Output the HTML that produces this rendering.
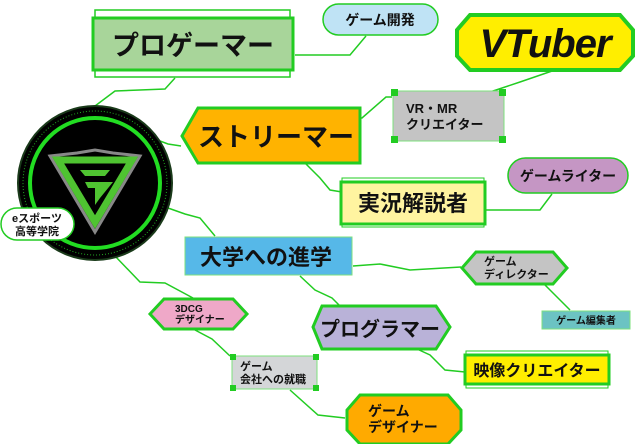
<!DOCTYPE html>
<html><head><meta charset="utf-8"><style>
html,body{margin:0;padding:0;background:#fff;width:640px;height:444px;overflow:hidden}
svg{display:block}
text{font-family:"Liberation Sans","Noto Sans CJK JP",sans-serif;font-weight:bold;fill:#111}
</style></head><body>
<svg width="640" height="444" viewBox="0 0 640 444" xmlns="http://www.w3.org/2000/svg">
<g fill="none" stroke="#22cc22" stroke-width="1.5">
<polyline points="175,78 165,89 115,91 95,106"/>
<polyline points="295,55 305,55 350,55 366,36"/>
<polyline points="555,70 520,82 490,92"/>
<polyline points="181,146 168,144 160,141"/>
<polyline points="352,118 362,118 386,97 392,97"/>
<polyline points="305,163 320,178 330,190 342,192"/>
<polyline points="485,210 540,210 552,194"/>
<polyline points="168,208 185,214 200,218 215,236"/>
<polyline points="353,266 380,264 410,270 461,267"/>
<polyline points="545,285 565,305 570,310"/>
<polyline points="300,276 315,290 332,298 340,306"/>
<polyline points="417,349 430,355 445,370 465,372"/>
<polyline points="115,256 140,282 165,283 193,298"/>
<polyline points="195,330 212,339 230,356"/>
<polyline points="290,390 318,415 345,418"/>
</g>

<!-- central circle -->
<circle cx="95" cy="183" r="77" fill="#000" stroke="#1a3a1a" stroke-width="2"/>
<circle cx="95" cy="183" r="72" fill="none" stroke="#22aa22" stroke-width="1" stroke-dasharray="1,2"/>
<circle cx="95" cy="183" r="65" fill="none" stroke="#22dd22" stroke-width="4"/>
<polygon points="50,156 77,153 95,150 113,153 140,156 95,232" fill="none" stroke="#888" stroke-width="3"/>
<polygon points="58,160 132,160 95,222" fill="none" stroke="#4fc431" stroke-width="7"/>
<polygon points="80,170 110,170 105,176 85,176" fill="#4fc431"/>
<polygon points="85,182 113,182 100,198 95,205 95,188 88,188" fill="#4fc431"/>
<!-- eスポーツ pill -->
<rect x="1" y="208" width="73" height="32" rx="16" fill="#fff" stroke="#22cc22" stroke-width="1.5"/>
<text x="37" y="222" font-size="11" text-anchor="middle">eスポーツ</text>
<text x="37" y="235" font-size="11" text-anchor="middle">高等学院</text>

<!-- プロゲーマー -->
<rect x="95" y="10" width="195" height="67" fill="#fff" stroke="#22cc22" stroke-width="1.5"/>
<rect x="93" y="18" width="200" height="52" fill="#a8d59a" stroke="#22cc22" stroke-width="3"/>
<text x="193" y="55" font-size="27" text-anchor="middle" font-weight="900">プロゲーマー</text>

<!-- ゲーム開発 -->
<rect x="323" y="4" width="115" height="31" rx="15.5" fill="#bfe3f5" stroke="#22cc22" stroke-width="1.5"/>
<text x="380" y="25" font-size="14" text-anchor="middle" font-weight="normal">ゲーム開発</text>

<!-- VTuber -->
<polygon points="470,15 620,15 633,30 633,56 620,70 470,70 457,56 457,30" fill="#ffee00" stroke="#22cc22" stroke-width="4"/>
<text x="545" y="57" font-size="40" text-anchor="middle" font-style="italic" font-weight="900" letter-spacing="-1">VTuber</text>

<!-- ストリーマー -->
<polygon points="198,108 360,108 360,163 198,163 182,136" fill="#ffb300" stroke="#22cc22" stroke-width="3"/>
<text x="276" y="146" font-size="26" text-anchor="middle" font-weight="900">ストリーマー</text>

<!-- VR MR -->
<rect x="393" y="91" width="111" height="50" fill="#c4c4c4" stroke="#7ee07e" stroke-width="1"/>
<g fill="#22cc22"><rect x="391" y="89" width="7" height="7"/><rect x="499" y="89" width="7" height="7"/><rect x="391" y="136" width="7" height="7"/><rect x="499" y="136" width="7" height="7"/></g>
<text x="406" y="113" font-size="13">VR・MR</text>
<text x="406" y="129" font-size="13">クリエイター</text>

<!-- ゲームライター -->
<rect x="508" y="158" width="120" height="35" rx="17.5" fill="#c596c4" stroke="#22cc22" stroke-width="1.5"/>
<text x="568" y="181" font-size="14" text-anchor="middle" font-weight="900">ゲームライター</text>

<!-- 実況解説者 -->
<rect x="342" y="178" width="142" height="49" fill="#fff" stroke="#22cc22" stroke-width="1"/>
<rect x="341" y="182" width="144" height="42" fill="#fff4a0" stroke="#22cc22" stroke-width="3"/>
<text x="413" y="211" font-size="22" text-anchor="middle" font-weight="900">実況解説者</text>

<!-- 大学への進学 -->
<rect x="185" y="237" width="167" height="38" fill="#56b8e8" stroke="#7ee07e" stroke-width="1"/>
<text x="266" y="265" font-size="22" text-anchor="middle" font-weight="900">大学への進学</text>

<!-- ゲームディレクター -->
<polygon points="476,252 553,252 567,268 553,284 476,284 462,268" fill="#c4c4c4" stroke="#22cc22" stroke-width="3"/>
<text x="484" y="265" font-size="11">ゲーム</text>
<text x="484" y="278" font-size="11">ディレクター</text>

<!-- ゲーム編集者 -->
<rect x="542" y="311" width="88" height="18" fill="#6cc3c3" stroke="#7ee07e" stroke-width="1"/>
<text x="586" y="324" font-size="10" text-anchor="middle" font-weight="900">ゲーム編集者</text>

<!-- プログラマー -->
<polygon points="322,306 436,306 450,327 436,349 322,349 313,327" fill="#b9b2d8" stroke="#22cc22" stroke-width="3"/>
<text x="380" y="336" font-size="20" text-anchor="middle">プログラマー</text>

<!-- 映像クリエイター -->
<rect x="466" y="351" width="142" height="37" fill="#fff" stroke="#22cc22" stroke-width="1"/>
<rect x="465" y="355" width="144" height="29" fill="#ffee00" stroke="#22cc22" stroke-width="3"/>
<text x="537" y="376" font-size="16" text-anchor="middle" font-weight="900">映像クリエイター</text>

<!-- ゲームデザイナー -->
<polygon points="360,395 448,395 461,410 461,430 448,444 360,444 347,430 347,410" fill="#ffaa00" stroke="#22cc22" stroke-width="3"/>
<text x="368" y="416" font-size="14" font-weight="900">ゲーム</text>
<text x="368" y="432" font-size="14" font-weight="900">デザイナー</text>

<!-- 3DCG -->
<polygon points="164,299 233,299 247,314 233,329 164,329 150,314" fill="#efa8c8" stroke="#22cc22" stroke-width="3"/>
<text x="175" y="312" font-size="10">3DCG</text>
<text x="175" y="323" font-size="10">デザイナー</text>

<!-- ゲーム会社への就職 -->
<rect x="232" y="356" width="85" height="33" fill="#d4d6d8" stroke="#7ee07e" stroke-width="1"/>
<g fill="#22cc22"><rect x="230" y="354" width="6" height="6"/><rect x="313" y="354" width="6" height="6"/><rect x="230" y="385" width="6" height="6"/><rect x="313" y="385" width="6" height="6"/></g>
<text x="240" y="370" font-size="11" font-weight="normal">ゲーム</text>
<text x="240" y="383" font-size="11" font-weight="normal">会社への就職</text>
</svg>
</body></html>
